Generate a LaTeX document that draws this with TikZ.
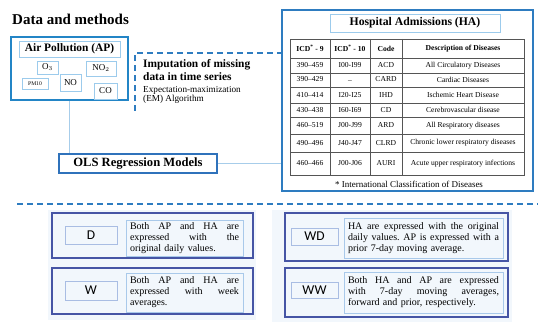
\documentclass[tikz,border=0pt]{standalone}
\usepackage{fontspec}
\setmainfont{Liberation Serif}
\setsansfont{Carlito}
\definecolor{apblue}{HTML}{2385C6}
\definecolor{lightb}{HTML}{9CCBEC}
\definecolor{connc}{HTML}{A7CDEA}
\definecolor{dashc}{HTML}{2E7CC0}
\definecolor{olsc}{HTML}{2F72BB}
\definecolor{hac}{HTML}{2E7CC0}
\definecolor{indig}{HTML}{4655A5}
\definecolor{lblc}{HTML}{A9BDE3}
\definecolor{txtc}{HTML}{A9C9EA}
\definecolor{panelc}{HTML}{F2F7FC}
\definecolor{gridc}{HTML}{555555}
\begin{document}
\begin{tikzpicture}[x=1pt,y=-1pt,
  bx/.style={draw, rectangle, inner sep=0pt},
  outerap/.style={bx, draw=apblue, line width=1.8pt},
  inner/.style={bx, draw=lightb, line width=0.9pt, font=\fontsize{9}{9}\selectfont},
  conn/.style={draw=connc, line width=1pt},
  dashline/.style={draw=dashc, line width=1.2pt, dash pattern=on 6pt off 4pt},
  outerb/.style={bx, draw=indig, line width=1.6pt},
  lblbox/.style={bx, draw=lblc, line width=0.9pt, font=\sffamily\fontsize{13.5}{14}\selectfont},
  txtbox/.style={bx, draw=txtc, line width=0.9pt, inner xsep=4pt, align=left, font=\fontsize{10}{11}\selectfont},
  cell/.style={inner sep=0pt, font=\fontsize{7.6}{8}\selectfont},
  hcell/.style={cell, font=\fontsize{7.6}{8}\selectfont\bfseries},
  grid/.style={draw=gridc, line width=0.6pt}
]
\useasboundingbox (0,0) rectangle (550,328);
% light panels
\fill[panelc] (48,210) rectangle (256,320);
\fill[panelc] (272,210) rectangle (512,322);

\node[anchor=west, inner sep=0pt, font=\fontsize{15}{17}\selectfont\bfseries] (title) at (12,19) {Data and methods};

% Air pollution
\node[outerap, minimum width=117pt, minimum height=63pt] (ap) at (69.5,68.5) {};
\node[inner, minimum width=101pt, minimum height=16pt, font=\fontsize{11.4}{12}\selectfont\bfseries] (aptitle) at (69.5,49) {Air Pollution (AP)};
\node[inner, minimum width=21pt, minimum height=13pt] (o3) at (47.5,67.5) {O$_3$};
\node[inner, minimum width=30pt, minimum height=15pt] (no2) at (101,68.5) {NO$_2$};
\node[inner, minimum width=26pt, minimum height=11pt, font=\fontsize{5.6}{6}\selectfont] (pm10) at (35,83.5) {PM10};
\node[inner, minimum width=21pt, minimum height=17pt] (no) at (70.5,82.5) {NO};
\node[inner, minimum width=23pt, minimum height=16pt] (co) at (105.5,91) {CO};

% Imputation
\node[anchor=north west, inner sep=0pt, align=left, font=\fontsize{11.4}{12.6}\selectfont\bfseries] (imp) at (143,59.5) {Imputation of missing\\data in time series};
\node[anchor=north west, inner sep=0pt, align=left, font=\fontsize{9.2}{9.4}\selectfont] (em) at (143,86) {Expectation-maximization\\(EM) Algorithm};

% OLS
\node[bx, draw=olsc, line width=1.5pt, minimum width=158pt, minimum height=19pt, font=\fontsize{12.6}{13}\selectfont\bfseries] (ols) at (138,163.5) {OLS Regression Models};

% HA
\node[bx, draw=hac, line width=1.6pt, minimum width=251pt, minimum height=181pt] (ha) at (407.5,100.5) {};
\node[inner, minimum width=170pt, minimum height=18pt, font=\fontsize{11.7}{12}\selectfont\bfseries] (hatitle) at (415,23) {Hospital Admissions (HA)};

% table grid
\draw[grid] (290,39) rectangle (524,175);
\foreach \yy in {58,73,87,103,117,134,152} \draw[grid] (290,\yy) -- (524,\yy);
\foreach \xx in {330,370,402} \draw[grid] (\xx,39) -- (\xx,175);

\node[hcell] (h1) at (310,48.5) {ICD\textsuperscript{*} - 9};
\node[hcell] (h2) at (350,48.5) {ICD\textsuperscript{*} - 10};
\node[hcell] (h3) at (386,48.5) {Code};
\node[hcell] (h4) at (463,48.5) {Description of Diseases};

\node[cell] (r1a) at (310,65.5) {390–459};
\node[cell] (r1b) at (350,65.5) {I00-I99};
\node[cell] (r1c) at (386,65.5) {ACD};
\node[cell] (r1d) at (463,65.5) {All Circulatory Diseases};

\node[cell] (r2a) at (310,79.5) {390–429};
\node[cell] (r2b) at (350,81) {\_};
\node[cell] (r2c) at (386,79.5) {CARD};
\node[cell] (r2d) at (463,79.5) {Cardiac Diseases};

\node[cell] (r3a) at (310,95) {410–414};
\node[cell] (r3b) at (350,95) {I20-I25};
\node[cell] (r3c) at (386,95) {IHD};
\node[cell] (r3d) at (463,95) {Ischemic Heart Disease};

\node[cell] (r4a) at (310,110) {430–438};
\node[cell] (r4b) at (350,110) {I60-I69};
\node[cell] (r4c) at (386,110) {CD};
\node[cell] (r4d) at (463,110) {Cerebrovascular disease};

\node[cell] (r5a) at (310,125.5) {460–519};
\node[cell] (r5b) at (350,125.5) {J00-J99};
\node[cell] (r5c) at (386,125.5) {ARD};
\node[cell] (r5d) at (463,125.5) {All Respiratory diseases};

\node[cell] (r6a) at (310,143) {490–496};
\node[cell] (r6b) at (350,143) {J40-J47};
\node[cell] (r6c) at (386,143) {CLRD};
\node[cell] (r6d) at (463,143) {Chronic lower respiratory diseases};

\node[cell] (r7a) at (310,163.5) {460–466};
\node[cell] (r7b) at (350,163.5) {J00-J06};
\node[cell] (r7c) at (386,163.5) {AURI};
\node[cell] (r7d) at (463,163.5) {Acute upper respiratory infections};

\node[inner sep=0pt, font=\fontsize{9}{9}\selectfont] (foot) at (409,184) {* International Classification of Diseases};

% connectors
\draw[conn] (ap.south) -- (ap.south |- ols.north);
\draw[conn] (ols.east) -- (ols.east -| ha.west);
\coordinate (impb) at (135,111);
\coordinate (impc) at (135,53);
\draw[dashline] (impb) -- (impc) -- (impc -| ha.west);

% bottom dashed line
\coordinate (dl) at (17,204);
\coordinate (dr) at (538,204);
\draw[dashline] (dl) -- (dr);

% bottom boxes
\node[outerb, minimum width=201pt, minimum height=45pt] (dout) at (152.5,235.5) {};
\node[lblbox, minimum width=52pt, minimum height=18pt] (dlbl) at (91,235) {D};
\node[txtbox, text width=109pt, minimum height=36pt] (dtxt) at (184.5,238) {Both\hfill AP\hfill and\hfill HA\hfill are\\expressed\hfill with\hfill the\\original daily values.};

\node[outerb, minimum width=201pt, minimum height=46pt] (wout) at (152.5,291) {};
\node[lblbox, minimum width=52pt, minimum height=19pt] (wlbl) at (91,290.5) {W};
\node[txtbox, text width=109pt, minimum height=39pt] (wtxt) at (184.5,292.5) {Both\hfill AP\hfill and\hfill HA\hfill are\\expressed\hfill with\hfill week\\averages.};

\node[outerb, minimum width=223pt, minimum height=48pt] (wdout) at (396.5,237) {};
\node[lblbox, minimum width=47pt, minimum height=17pt] (wdlbl) at (314.5,236.5) {WD};
\node[txtbox, text width=151pt, minimum height=40pt] (wdtxt) at (423.5,238) {HA\hfill are\hfill expressed\hfill with\hfill the\hfill original\\daily\hfill values.\hfill AP\hfill is\hfill expressed\hfill with\hfill a\\prior 7-day moving average.};

\node[outerb, minimum width=223pt, minimum height=49pt] (wwout) at (396.5,292.5) {};
\node[lblbox, minimum width=47pt, minimum height=16pt] (wwlbl) at (314.5,290) {WW};
\node[txtbox, text width=151pt, minimum height=41pt] (wwtxt) at (423.5,292.5) {Both\hfill HA\hfill and\hfill AP\hfill are\hfill expressed\\with\hfill 7-day\hfill moving\hfill averages,\\forward and prior, respectively.};
\end{tikzpicture}
\end{document}
